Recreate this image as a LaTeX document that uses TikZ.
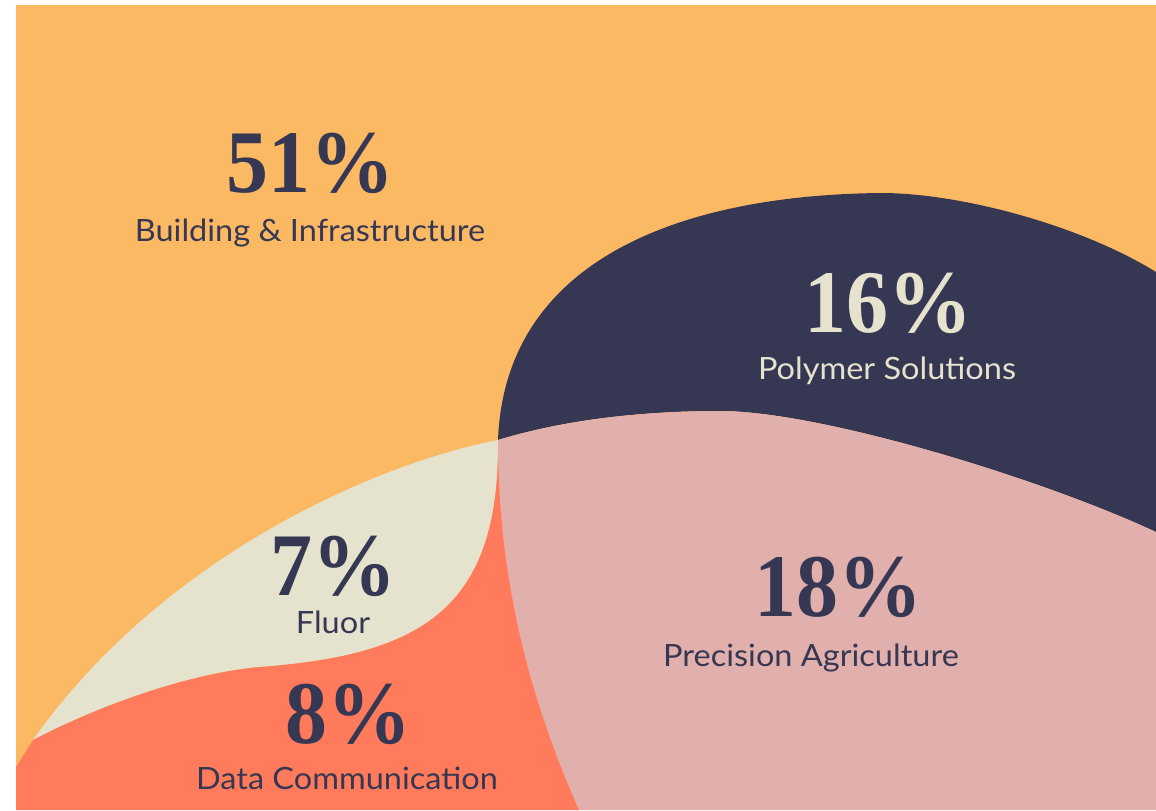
\documentclass[tikz,border=0pt]{standalone}
\usepackage{fontspec}
\newfontfamily\pctfont[FakeStretch=0.94]{Liberation Serif}
\newfontfamily\lblfont[FakeStretch=1.06]{Lato}

\definecolor{sand}{RGB}{252,185,100}
\definecolor{ink}{RGB}{54,55,82}
\definecolor{rose}{RGB}{226,176,172}
\definecolor{coral}{RGB}{255,123,92}
\definecolor{cream}{RGB}{229,226,206}

\tikzset{every picture/.style={line width=0.75pt}}

\begin{document}
\begin{tikzpicture}[x=0.75pt,y=0.75pt,yscale=-1,xscale=1,
  pct/.style={anchor=base,inner sep=0pt,font=\pctfont\bfseries\fontsize{67}{70}\selectfont},
  lbl/.style={anchor=base,inner sep=0pt,font=\lblfont\fontsize{23}{26}\selectfont}]
\useasboundingbox (0,0) rectangle (1156,810);

%Points where the regions meet
\coordinate (J) at (498,440);
\coordinate (Top) at (881,193);
\coordinate (E) at (1156,272);
\coordinate (R) at (1156,532);
\coordinate (T) at (720,411);
\coordinate (P) at (33,740);
\coordinate (M) at (260,667);
\coordinate (L) at (16,767);
\coordinate (B) at (579,810);

%Shape: Rectangle [background, building & infrastructure]
\fill [sand] (16,5) rectangle (1156,810);
%Shape: Polymer Solutions
\fill [ink] (J) .. controls (505,260) and (680,195) .. (Top) .. controls (960,193) and (1080,225) .. (E) -- (R) .. controls (1040,478) and (820,411) .. (T) .. controls (650,411) and (570,418) .. (J) -- cycle;
%Shape: Precision Agriculture
\fill [rose] (J) .. controls (570,418) and (650,411) .. (T) .. controls (820,411) and (1040,478) .. (R) -- (1156,810) -- (B) .. controls (530,700) and (498,580) .. (J) -- cycle;
%Shape: Fluor
\fill [cream] (J) .. controls (370,465) and (160,560) .. (P) .. controls (100,705) and (190,673) .. (M) .. controls (420,655) and (500,610) .. (J) -- cycle;
%Shape: Data Communication
\fill [coral] (L) -- (P) .. controls (100,705) and (190,673) .. (M) .. controls (420,655) and (500,610) .. (J) .. controls (498,580) and (530,700) .. (B) -- (16,810) -- cycle;

% Text Node
\draw (310,192) node [pct,ink] (p51) {51\%};
% Text Node
\draw (310,241) node [lbl,ink] (t51) {Building \& Infrastructure};
% Text Node
\draw (888,332) node [pct,cream] (p16) {16\%};
% Text Node
\draw (887,379) node [lbl,cream] (t16) {Polymer Solutions};
% Text Node
\draw (838,616) node [pct,ink] (p18) {18\%};
% Text Node
\draw (811,666) node [lbl,ink] (t18) {Precision Agriculture};
% Text Node
\draw (333,595) node [pct,ink] (p7) {7\%};
% Text Node
\draw (333,633) node [lbl,ink] (t7) {Fluor};
% Text Node
\draw (348,743) node [pct,ink] (p8) {8\%};
% Text Node
\draw (347,789) node [lbl,ink] (t8) {Data Communication};

\end{tikzpicture}
\end{document}
